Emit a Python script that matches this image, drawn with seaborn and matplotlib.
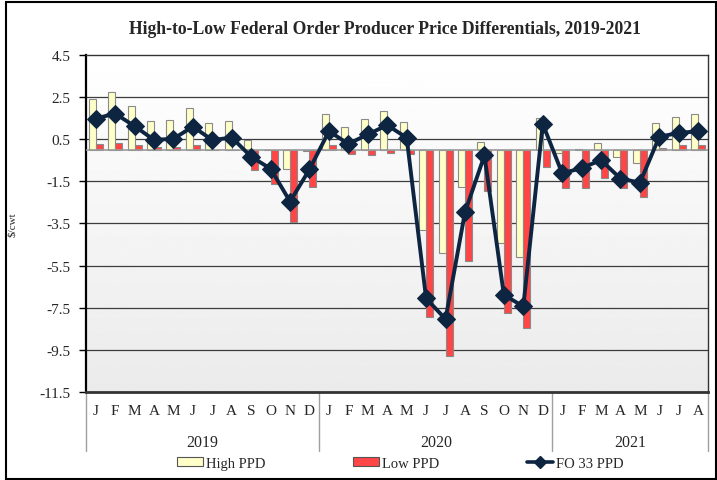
"""Gráfico de diferenciales PPD High/Low y FO 33, 2019-2021."""
import matplotlib.pyplot as plt
from matplotlib.patches import Rectangle, Patch
from matplotlib.lines import Line2D
import matplotlib.transforms as mtransforms
import numpy as np
import pandas as pd
import seaborn as sns

years = ['2019', '2020', '2021']
months_per_year = [12, 12, 8]
month_letters = ['J', 'F', 'M', 'A', 'M', 'J', 'J', 'A', 'S', 'O', 'N', 'D']

high_ppd = [2.43, 2.73, 2.10, 1.37, 1.40, 1.99, 1.28, 1.36, 0.46, 0.00, -0.93, -0.07,
            1.71, 1.09, 1.47, 1.82, 1.31, -3.82, -4.88, -1.75, 0.36, -4.44, -5.07, 1.50,
            -0.14, 0.05, 0.33, -0.33, -0.65, 1.28, 1.55, 1.72]
low_ppd = [0.28, 0.31, 0.22, 0.14, 0.15, 0.24, -0.03, 0.00, -0.97, -1.61, -3.41, -1.77,
           0.25, -0.18, -0.24, -0.14, -0.19, -7.92, -9.81, -5.26, -1.96, -7.73, -8.45, -0.81,
           -1.83, -1.80, -1.33, -1.82, -2.23, 0.07, 0.25, 0.25]
fo33_ppd = [1.48, 1.72, 1.12, 0.47, 0.52, 1.10, 0.46, 0.58, -0.33, -0.90, -2.46, -0.93,
            0.88, 0.28, 0.73, 1.17, 0.57, -7.06, -8.04, -2.96, -0.27, -6.89, -7.44, 1.23,
            -1.12, -0.87, -0.49, -1.37, -1.56, 0.62, 0.80, 0.88]

# etiquetas únicas por mes
periods = []
letters = []
for y, n in zip(years, months_per_year):
    for m in range(n):
        periods.append(f'{y}-{m + 1:02d}')
        letters.append(month_letters[m])

df = pd.DataFrame({
    'period': periods * 2,
    'value': high_ppd + low_ppd,
    'series': ['High PPD'] * len(periods) + ['Low PPD'] * len(periods),
})

sns.set_style('white')
plt.rcParams['font.family'] = ['Liberation Serif', 'DejaVu Serif']

yellow = '#FFFFC8'
red = '#FF4545'
navy = '#0E2541'

fig = plt.figure(figsize=(7.17, 4.81), dpi=100)
ax = fig.add_axes([0.1199, 0.183, 0.8675, 0.7006])

# fondo degradado blanco -> gris
grad = np.linspace(1.0, 0.92, 256).reshape(-1, 1)
ax.imshow(grad, extent=[0, 1, 0, 1], transform=ax.transAxes, cmap='gray',
          vmin=0, vmax=1, aspect='auto', zorder=0)

sns.barplot(data=df, x='period', y='value', hue='series',
            palette={'High PPD': yellow, 'Low PPD': red}, saturation=1,
            width=0.72, edgecolor='#8a8a8a', linewidth=0.8,
            legend=False, ax=ax, zorder=3)

xpos = np.arange(len(periods))
sns.lineplot(x=xpos, y=fo33_ppd, color=navy, linewidth=2.8, marker='D',
             markersize=9, markeredgecolor=navy, sort=False, ax=ax, zorder=5)

ax.set_xlim(-0.5, len(periods) - 0.5)
ax.set_ylim(-11.5, 4.5)
yt = np.arange(-11.5, 4.6, 2)
ax.set_yticks(yt)
ax.set_yticklabels([f'{v:.1f}' for v in yt], fontsize=11)
for v in yt[1:-1]:
    ax.axhline(v, color='#3c3c3c', linewidth=0.9, zorder=1)
ax.axhline(0, color='#9a9a9a', linewidth=1.2, zorder=4)

ax.set_xticks(xpos)
ax.set_xticklabels(letters, fontsize=11)
ax.tick_params(axis='x', length=0, pad=9)
ax.tick_params(axis='y', length=5, width=1, color='black', pad=6, left=True)
ax.set_xlabel('')
ax.set_ylabel('$/cwt', fontsize=8, labelpad=16)

for side in ['top', 'right']:
    ax.spines[side].set_color('#333333')
    ax.spines[side].set_linewidth(1.0)
ax.spines['left'].set_color('black')
ax.spines['left'].set_linewidth(1.6)
ax.spines['bottom'].set_color('#333333')
ax.spines['bottom'].set_linewidth(2.0)

# separadores y etiquetas de año
trans = mtransforms.blended_transform_factory(ax.transData, ax.transAxes)
edges = np.concatenate([[0], np.cumsum(months_per_year)]) - 0.5
for e in edges:
    ax.plot([e, e], [0, -0.175], transform=trans, color='#a0a0a0',
            linewidth=1.0, clip_on=False)
for i, y in enumerate(years):
    ax.text((edges[i] + edges[i + 1]) / 2, -0.148, y, transform=trans,
            ha='center', va='center', fontsize=11.5)

fig.suptitle('High-to-Low Federal Order Producer Price Differentials, 2019-2021',
             x=0.537, y=0.938, va='center', fontsize=12.7, fontweight='bold')

handles = [
    Patch(facecolor=yellow, edgecolor='#555555', linewidth=0.8, label='High PPD'),
    Patch(facecolor=red, edgecolor='#555555', linewidth=0.8, label='Low PPD'),
    Line2D([0], [0], color=navy, linewidth=2.6, marker='D', markersize=6, label='FO 33 PPD'),
]
fig.legend(handles=handles, loc='center', bbox_to_anchor=(0.558, 0.035), ncol=3,
           frameon=False, fontsize=10.5, handlelength=1.8, handleheight=0.6,
           handletextpad=0.2, columnspacing=6.0)

fig.patches.append(Rectangle((6 / 717, 1 / 481), 710 / 717, 477 / 481,
                             transform=fig.transFigure, fill=False,
                             edgecolor='black', linewidth=1.5))

fig.savefig('out.png', dpi=100)
plt.close(fig)
